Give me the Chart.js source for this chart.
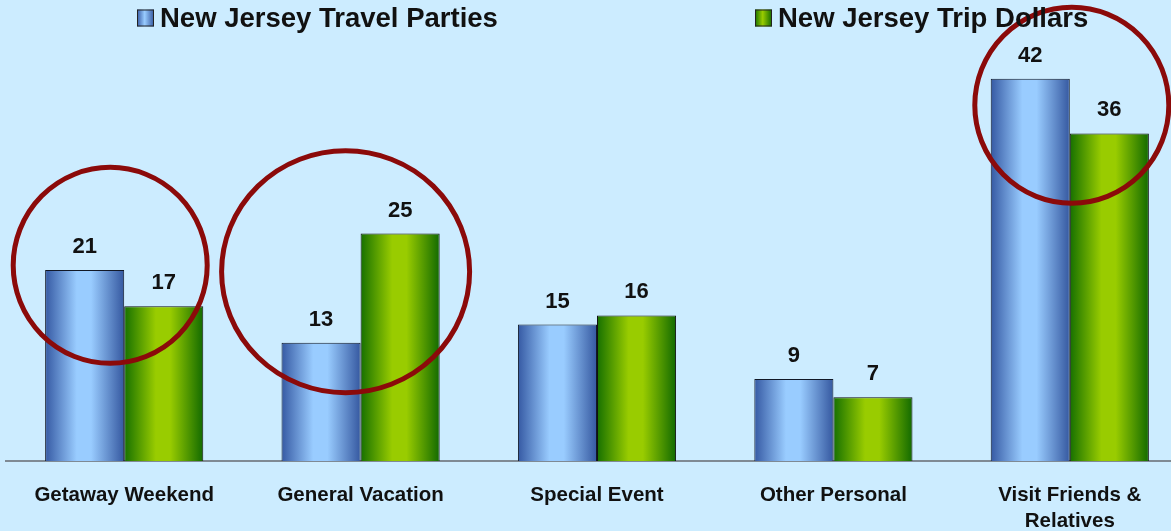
<!DOCTYPE html>
<html>
<head>
<meta charset="utf-8">
<script src="https://cdn.jsdelivr.net/npm/chart.js@4.4.1/dist/chart.umd.min.js"></script>
<style>
  html, body { margin: 0; padding: 0; background: #ccecff; overflow: hidden; }
  #wrap { position: relative; width: 1188px; height: 531px; }
</style>
</head>
<body>
<div id="wrap"><canvas id="tripChart"></canvas></div>
<script>
// chart data
const categories = ["Getaway Weekend", "General Vacation", "Special Event", "Other Personal", ["Visit Friends &", "Relatives"]];
const travelParties = [21, 13, 15, 9, 42];
const tripDollars = [17, 25, 16, 7, 36];
const seriesNames = ["New Jersey Travel Parties", "New Jersey Trip Dollars"];

// red circles drawn over some groups (category index, value at centre)
const highlights = [
    { cat: 0, value: 21.5, dx: -14, rx: 97, ry: 98 },
    { cat: 1, value: 20.8, dx: -15, rx: 124, ry: 121 },
    { cat: 4, value: 39.1, dx: 2, rx: 97, ry: 98 }
];

const gradStops = [
    ["#3559a3", "#99ccff", "#3558a0"], // blue bars
    ["#167000", "#99cc00", "#126a00"]  // green bars
];

// bars get a left-to-right gradient like the original
const barGradient = {
    id: "barGradient",
    beforeDatasetsDraw(chart) {
        const ctx = chart.ctx;
        chart.data.datasets.forEach((ds, di) => {
            const meta = chart.getDatasetMeta(di);
            meta.data.forEach(bar => {
                const left = bar.x - bar.width / 2;
                const right = bar.x + bar.width / 2;
                const g = ctx.createLinearGradient(left, 0, right, 0);
                g.addColorStop(0, gradStops[di][0]);
                g.addColorStop(0.4, gradStops[di][1]);
                g.addColorStop(0.58, gradStops[di][1]);
                g.addColorStop(1, gradStops[di][2]);
                bar.options.backgroundColor = g;
            });
        });
    },
    afterDatasetsDraw(chart) {
        const ctx = chart.ctx;
        ctx.save();
        ctx.font = "bold 22px 'Liberation Sans', Arial, sans-serif";
        ctx.fillStyle = "#111";
        ctx.textAlign = "center";
        ctx.textBaseline = "middle";
        chart.data.datasets.forEach((ds, di) => {
            chart.getDatasetMeta(di).data.forEach((bar, i) => {
                ctx.fillText(ds.data[i], bar.x, bar.y - 23);
            });
        });
        ctx.restore();
    }
};

// legend on top + the circles
const extras = {
    id: "extras",
    afterDraw(chart) {
        const ctx = chart.ctx;
        const xs = chart.scales.x;
        const ys = chart.scales.y;
        ctx.save();

        // circles
        ctx.strokeStyle = "#8b0a0a";
        ctx.lineWidth = 5;
        highlights.forEach(h => {
            const cx = xs.getPixelForValue(h.cat) + h.dx;
            const cy = ys.getPixelForValue(h.value);
            ctx.beginPath();
            ctx.ellipse(cx, cy, h.rx, h.ry, 0, 0, Math.PI * 2);
            ctx.stroke();
        });

        // legend
        const legendX = [137, 755];
        ctx.font = "bold 27.5px 'Liberation Sans', Arial, sans-serif";
        ctx.textBaseline = "middle";
        ctx.textAlign = "left";
        seriesNames.forEach((name, di) => {
            const x = legendX[di];
            const y = 18;
            const g = ctx.createLinearGradient(x, 0, x + 17, 0);
            g.addColorStop(0, gradStops[di][0]);
            g.addColorStop(0.45, gradStops[di][1]);
            g.addColorStop(1, gradStops[di][2]);
            ctx.fillStyle = g;
            ctx.fillRect(x, y - 8.5, 17, 17);
            ctx.strokeStyle = "#222";
            ctx.lineWidth = 1;
            ctx.strokeRect(x + 0.5, y - 8, 16, 16);
            ctx.fillStyle = "#111";
            ctx.fillText(name, x + 23, y + 1);
        });
        ctx.restore();
    }
};

new Chart(document.getElementById("tripChart"), {
    type: "bar",
    data: {
        labels: categories,
        datasets: [
            {
                label: seriesNames[0],
                data: travelParties,
                backgroundColor: () => "#99ccff",
                borderColor: "#111827",
                borderWidth: 1
            },
            {
                label: seriesNames[1],
                data: tripDollars,
                backgroundColor: () => "#99cc00",
                borderColor: "#111",
                borderWidth: 1
            }
        ]
    },
    options: {
        responsive: true,
        maintainAspectRatio: false,
        animation: false,
        layout: { padding: { left: 6, top: 6, right: 0, bottom: 0 } },
        datasets: {
            bar: { barPercentage: 1, categoryPercentage: 0.669 }
        },
        plugins: {
            legend: { display: false },
            tooltip: { enabled: false }
        },
        scales: {
            y: {
                display: false,
                min: 0,
                max: 50
            },
            x: {
                grid: { display: false, drawTicks: false },
                border: { display: true, color: "#7f8a94", width: 2 },
                ticks: {
                    color: "#111",
                    maxRotation: 0,
                    padding: 21,
                    font: { family: "'Liberation Sans', Arial, sans-serif", size: 20.5, weight: "bold", lineHeight: 1.27 }
                },
                afterFit: (scale) => { scale.height = 70; }
            }
        }
    },
    plugins: [barGradient, extras]
});
</script>
</body>
</html>
